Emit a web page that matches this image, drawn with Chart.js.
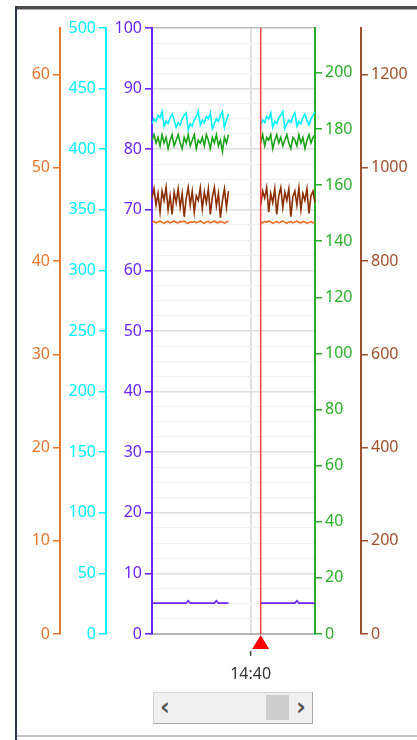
<!DOCTYPE html>
<html>
<head>
<meta charset="utf-8">
<script src="https://cdn.jsdelivr.net/npm/chart.js@4.4.1/dist/chart.umd.min.js"></script>
<style>
  html, body { margin: 0; padding: 0; background: #fff; }
  body { position: relative; width: 417px; height: 740px; overflow: hidden; }
  #frame-top { position: absolute; left: 15px; top: 6px; width: 402px; height: 3px; background: #4b4b4b; border-bottom: 1px solid #a9a9a9; }
  #frame-left { position: absolute; left: 15px; top: 6px; width: 2px; height: 734px; background: #2e3654; }
  #frame-bottom { position: absolute; left: 17px; top: 735px; width: 400px; height: 2px; background: #c2c2c2; }
  #chart-box { position: absolute; left: 17px; top: 10px; width: 400px; height: 680px; }
  #scrollbar { position: absolute; left: 153px; top: 692px; width: 158px; height: 30px;
    background: #f0f0f0; border: 1px solid #d4d4d4; border-right-color: #a8a8a8; border-bottom-color: #a8a8a8; }
  #scrollbar .arrow { position: absolute; top: 1px; font: bold 24px "DejaVu Sans", sans-serif; color: #555; line-height: 26px; }
  #scrollbar .thumb { position: absolute; left: 112px; top: 2px; width: 23px; height: 25px; background: #cdcdcd; }
</style>
</head>
<body>
<div id="frame-top"></div>
<div id="frame-left"></div>
<div id="frame-bottom"></div>
<div id="chart-box"><canvas id="chart"></canvas></div>
<div id="scrollbar">
  <span class="arrow" style="left:6px">&#8249;</span>
  <div class="thumb"></div>
  <span class="arrow" style="left:142px">&#8250;</span>
</div>
<script>
// sample times, one every 12 s
const timeLabels = [
  "14:30:12", "14:30:24", "14:30:36", "14:30:48",
  "14:31:00", "14:31:12", "14:31:24", "14:31:36", "14:31:48",
  "14:32:00", "14:32:12", "14:32:24", "14:32:36", "14:32:48",
  "14:33:00", "14:33:12", "14:33:24", "14:33:36", "14:33:48",
  "14:34:00", "14:34:12", "14:34:24", "14:34:36", "14:34:48",
  "14:35:00", "14:35:12", "14:35:24", "14:35:36", "14:35:48",
  "14:36:00", "14:36:12", "14:36:24", "14:36:36", "14:36:48",
  "14:37:00", "14:37:12", "14:37:24", "14:37:36", "14:37:48",
  "14:38:00", "14:38:12", "14:38:24", "14:38:36", "14:38:48",
  "14:39:00", "14:39:12", "14:39:24", "14:39:36", "14:39:48",
  "14:40:00", "14:40:12", "14:40:24", "14:40:36", "14:40:48",
  "14:41:00", "14:41:12", "14:41:24", "14:41:36", "14:41:48",
  "14:42:00", "14:42:12", "14:42:24", "14:42:36", "14:42:48",
  "14:43:00", "14:43:12", "14:43:24", "14:43:36", "14:43:48",
  "14:44:00", "14:44:12", "14:44:24", "14:44:36", "14:44:48",
  "14:45:00", "14:45:12", "14:45:24", "14:45:36", "14:45:48",
  "14:46:00", "14:46:12", "14:46:24",
];
const xTickTimes = { "14:40:00": "14:40" };
const cursorTime = "14:41:00";

// 14:37:48 .. 14:41:00 has no samples
const gapSamples = [null, null, null, null, null, null, null, null, null, null, null, null, null, null, null];

const cyanLeft = [421, 425, 423, 428, 426, 431, 419, 423, 421, 426, 429, 424, 418, 422, 420, 425, 428, 430,
  416, 421, 419, 424, 427, 431, 420, 424, 422, 427, 425, 430, 417, 421, 425, 423, 428, 431, 418, 424, 429];
const cyanRight = [420, 424, 422, 427, 425, 430, 418, 423, 421, 426, 428, 431, 417, 421, 424, 422, 427, 430,
  419, 423, 421, 426, 429, 424, 420, 425, 428, 431];

const greenLeft = [176, 178, 175, 177, 174, 178, 175, 177, 173, 176, 178, 174, 176, 178, 175, 173, 177, 175,
  178, 174, 176, 178, 173, 176, 175, 177, 174, 178, 176, 173, 177, 175, 178, 174, 176, 172, 177, 175, 178];
const greenRight = [175, 178, 174, 177, 176, 178, 173, 176, 178, 175, 177, 174, 176, 178, 175, 173, 177, 176,
  174, 178, 175, 177, 173, 176, 178, 175, 177, 178];

const brownLeft = [935, 955, 920, 945, 905, 950, 930, 958, 910, 940, 900, 948, 925, 955, 915, 945, 895, 935,
  958, 920, 950, 905, 940, 930, 957, 912, 948, 925, 955, 900, 938, 958, 918, 945, 893, 930, 955, 915, 950];
const brownRight = [920, 950, 935, 958, 905, 945, 925, 955, 900, 940, 958, 915, 948, 930, 955, 895, 938, 950,
  920, 957, 910, 945, 930, 955, 902, 940, 950, 925];

const orangeLeft = [44.15, 44.25, 44.1, 44.2, 44.3, 44.15, 44.05, 44.2, 44.25, 44.1, 44.2, 44.3, 44.15, 44.1,
  44.25, 44.2, 44.3, 44.1, 44.05, 44.2, 44.15, 44.25, 44.1, 44.2, 44.3, 44.15, 44.05, 44.2, 44.25, 44.1, 44.2,
  44.3, 44.15, 44.1, 44.25, 44.2, 44.05, 44.2, 44.25];
const orangeRight = [44.2, 44.1, 44.25, 44.15, 44.3, 44.2, 44.05, 44.15, 44.25, 44.1, 44.2, 44.3, 44.15, 44.05,
  44.2, 44.25, 44.1, 44.2, 44.3, 44.15, 44.1, 44.25, 44.2, 44.05, 44.15, 44.25, 44.1, 44.2];

const purpleLeft = [5.1, 5.1, 5.1, 5.1, 5.1, 5.1, 5.1, 5.1, 5.1, 5.1, 5.1, 5.1, 5.1, 5.1, 5.1, 5.1, 5.1, 5.1,
  5.5, 5.1, 5.1, 5.1, 5.1, 5.1, 5.1, 5.1, 5.1, 5.1, 5.1, 5.1, 5.1, 5.1, 5.5, 5.1, 5.1, 5.1, 5.1, 5.1, 5.1];
const purpleRight = [5.1, 5.1, 5.1, 5.1, 5.1, 5.1, 5.1, 5.1, 5.1, 5.1, 5.1, 5.1, 5.1, 5.1, 5.1, 5.1, 5.1, 5.1,
  5.5, 5.1, 5.1, 5.1, 5.1, 5.1, 5.1, 5.1, 5.1, 5.1];

const COLORS = {
  orange: "#e8772e",
  orangeLine: "#e86c22",
  cyan: "#00f2ff",
  purple: "#6b26ff",
  green: "#2aae2a",
  greenLine: "#1ca41c",
  brown: "#a0502c",
  brownLine: "#8b2e00",
};

const FONT = { family: "'Noto Sans', 'Liberation Sans', sans-serif", size: 16 };

const series = (left, right) => [...left, ...gapSamples, ...right];

const fixWidth = (w) => (scale) => { scale.width = w; };

const sideAxis = (position, color, max, step, width) => ({
  type: "linear",
  position,
  min: 0,
  max,
  afterFit: fixWidth(width),
  border: { display: true, color, width: 2 },
  grid: { drawOnChartArea: false, drawTicks: true, tickLength: 7, tickColor: color, lineWidth: 1.5 },
  ticks: {
    stepSize: step,
    includeBounds: false,
    autoSkip: false,
    padding: 3,
    color,
    font: FONT,
    callback: (v) => String(v),
  },
});

const cursorPlugin = {
  id: "cursor",
  afterDatasetsDraw(chart) {
    const { ctx, chartArea } = chart;
    const xScale = chart.scales.x;
    const cx = xScale.getPixelForValue(timeLabels.indexOf(cursorTime));
    ctx.save();
    ctx.strokeStyle = "#ff3c3c";
    ctx.lineWidth = 1.5;
    ctx.beginPath();
    ctx.moveTo(cx, chartArea.top);
    ctx.lineTo(cx, chartArea.bottom);
    ctx.stroke();
    ctx.fillStyle = "#ff0000";
    ctx.beginPath();
    ctx.moveTo(cx, chartArea.bottom + 1);
    ctx.lineTo(cx + 8.5, chartArea.bottom + 15);
    ctx.lineTo(cx - 8.5, chartArea.bottom + 15);
    ctx.closePath();
    ctx.fill();
    // short time tick marks below the cursor marker
    ctx.strokeStyle = "#444";
    ctx.lineWidth = 1.5;
    Object.keys(xTickTimes).forEach((t) => {
      const tx = xScale.getPixelForValue(timeLabels.indexOf(t));
      ctx.beginPath();
      ctx.moveTo(tx, chartArea.bottom + 17);
      ctx.lineTo(tx, chartArea.bottom + 22);
      ctx.stroke();
    });
    ctx.restore();
  },
};

const initChart = () => {
  const ctx = document.getElementById("chart").getContext("2d");
  new Chart(ctx, {
    type: "line",
    data: {
      labels: timeLabels,
      datasets: [
        { label: "cyan", data: series(cyanLeft, cyanRight), yAxisID: "yCyan", borderColor: COLORS.cyan },
        { label: "green", data: series(greenLeft, greenRight), yAxisID: "yGreen", borderColor: COLORS.greenLine },
        { label: "brown", data: series(brownLeft, brownRight), yAxisID: "yBrown", borderColor: COLORS.brownLine },
        { label: "orange", data: series(orangeLeft, orangeRight), yAxisID: "yOrange", borderColor: COLORS.orangeLine },
        { label: "purple", data: series(purpleLeft, purpleRight), yAxisID: "yPurple", borderColor: COLORS.purple },
      ].map((d) => ({ ...d, borderWidth: 1.6, pointRadius: 0, tension: 0, spanGaps: false, fill: false })),
    },
    options: {
      responsive: true,
      maintainAspectRatio: false,
      animation: false,
      events: [],
      layout: { padding: { top: 18, right: 0, bottom: 0, left: 0 } },
      plugins: { legend: { display: false }, tooltip: { enabled: false } },
      scales: {
        x: {
          type: "category",
          offset: false,
          afterFit: (scale) => { scale.height = 56; },
          border: { display: true, color: "#b4b4b4", width: 2 },
          grid: { drawTicks: false, color: "#e2e2e2", lineWidth: 2 },
          ticks: {
            autoSkip: false,
            maxRotation: 0,
            padding: 31,
            color: "#333",
            font: FONT,
            callback(value) {
              const t = this.getLabelForValue(value);
              return xTickTimes[t] !== undefined ? xTickTimes[t] : null;
            },
          },
        },
        yPurple: {
          type: "linear",
          position: "left",
          min: 0,
          max: 100,
          afterFit: fixWidth(46),
          border: { display: true, color: COLORS.purple, width: 2 },
          grid: {
            drawOnChartArea: true,
            tickLength: 7,
            lineWidth: (c) => (c.tick && c.tick.value % 10 === 0 ? 1.6 : 1.2),
            color: (c) => {
              if (!c.tick) return "#f0f0f0";
              if (c.tick.value === 100) return "#bdbdbd";
              return c.tick.value % 10 === 0 ? "#dedede" : "#f1f1f1";
            },
            tickColor: (c) => (c.tick && c.tick.value % 10 === 0 ? COLORS.purple : "rgba(0,0,0,0)"),
          },
          ticks: {
            stepSize: 2.5,
            autoSkip: false,
            padding: 3,
            color: COLORS.purple,
            font: FONT,
            callback: (v) => (v % 10 === 0 ? String(v) : ""),
          },
        },
        yCyan: sideAxis("left", COLORS.cyan, 500, 50, 46),
        yOrange: sideAxis("left", COLORS.orange, 65, 10, 43),
        yGreen: sideAxis("right", COLORS.green, 216, 20, 46),
        yBrown: sideAxis("right", COLORS.brown, 1300, 200, 56),
      },
    },
    plugins: [cursorPlugin],
  });
};

window.addEventListener("DOMContentLoaded", initChart);
</script>
</body>
</html>
